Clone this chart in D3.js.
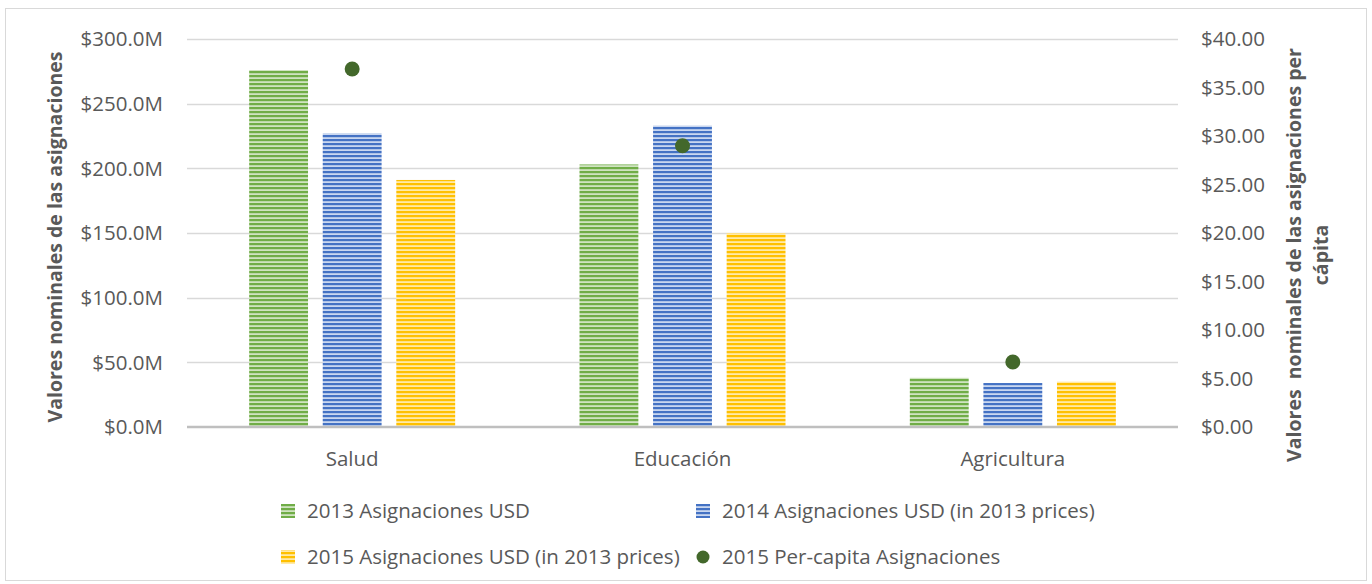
<!DOCTYPE html>
<html>
<head>
<meta charset="utf-8">
<script src="https://cdn.jsdelivr.net/npm/d3@7"></script>
<style>
  body { margin: 0; background: #fff; }
  text { font-family: "Open Sans", Lato, sans-serif; fill: #595959; }
</style>
</head>
<body>
<div id="chart"></div>
<script>
// data
const categories = ["Salud", "Educación", "Agricultura"];
const seriesNames = [
  "2013 Asignaciones USD",
  "2014 Asignaciones USD (in 2013 prices)",
  "2015 Asignaciones USD (in 2013 prices)"
];
const alloc2013 = [276, 203, 38];   // millions USD
const alloc2014 = [227, 233, 34];
const alloc2015 = [191, 150, 35];
const perCapita2015 = [36.9, 29.0, 6.7];
const dotName = "2015 Per-capita Asignaciones";
const leftTicks = [0, 50, 100, 150, 200, 250, 300];
const rightTicks = [0, 5, 10, 15, 20, 25, 30, 35, 40];

const colors = ["#70AD47", "#4472C4", "#FFC000"];
const lights = ["#cfe3c0", "#c9d7f0", "#ffeaa8"];
const dotColor = "#43682B";

const width = 1372, height = 584;
const margin = { top: 39, right: 194, bottom: 157, left: 187 };
const innerW = width - margin.left - margin.right;
const innerH = height - margin.top - margin.bottom;
const fs = "20.5px";
const titleFs = "19.5px";

const svg = d3.select("#chart").append("svg")
    .attr("width", width)
    .attr("height", height);

// striped fills
const defs = svg.append("defs");
colors.forEach((c, i) => {
  const p = defs.append("pattern")
      .attr("id", "stripe" + i)
      .attr("patternUnits", "userSpaceOnUse")
      .attr("width", 8)
      .attr("height", 4);
  p.append("rect").attr("width", 8).attr("height", 4).attr("fill", lights[i]);
  p.append("rect").attr("width", 8).attr("height", 2.2).attr("fill", c);
});

// outer border
svg.append("rect")
    .attr("x", 5.5).attr("y", 8.5)
    .attr("width", 1361).attr("height", 572)
    .attr("fill", "none")
    .attr("stroke", "#d9d9d9");

const g = svg.append("g")
    .attr("transform", `translate(${margin.left},${margin.top})`);

const x0 = d3.scaleBand()
    .domain(categories)
    .range([0, innerW]);

const x1 = d3.scaleBand()
    .domain(d3.range(3))
    .range([x0.bandwidth() / 2 - 103, x0.bandwidth() / 2 + 103])
    .paddingInner(0.2);

const yL = d3.scaleLinear().domain([0, 300]).range([innerH, 0]);
const yR = d3.scaleLinear().domain([0, 40]).range([innerH, 0]);

// gridlines
g.append("g")
  .selectAll("line")
  .data(leftTicks.slice(1))
  .join("line")
    .attr("x1", 0).attr("x2", innerW)
    .attr("y1", d => Math.round(yL(d)) + 0.5)
    .attr("y2", d => Math.round(yL(d)) + 0.5)
    .attr("stroke", "#d9d9d9")
    .attr("stroke-width", 1.5);

// left axis labels
g.append("g")
  .selectAll("text")
  .data(leftTicks)
  .join("text")
    .attr("x", -24)
    .attr("y", d => yL(d))
    .attr("dy", "0.35em")
    .attr("text-anchor", "end")
    .style("font-size", fs)
    .text(d => "$" + d.toFixed(1) + "M");

// right axis labels
g.append("g")
  .selectAll("text")
  .data(rightTicks)
  .join("text")
    .attr("x", innerW + 23)
    .attr("y", d => yR(d))
    .attr("dy", "0.35em")
    .attr("text-anchor", "start")
    .style("font-size", fs)
    .text(d => "$" + d.toFixed(2));

// bars
const series = [alloc2013, alloc2014, alloc2015];
const groups = g.selectAll(".cat")
  .data(categories)
  .join("g")
    .attr("class", "cat")
    .attr("transform", d => `translate(${x0(d)},0)`);

groups.selectAll("rect")
  .data((d, ci) => series.map((s, si) => ({ si, v: s[ci] })))
  .join("rect")
    .attr("x", d => x1(d.si))
    .attr("width", x1.bandwidth())
    .attr("y", d => yL(d.v))
    .attr("height", d => innerH - yL(d.v))
    .attr("fill", d => `url(#stripe${d.si})`);

// baseline
g.append("line")
    .attr("x1", 0).attr("x2", innerW)
    .attr("y1", innerH).attr("y2", innerH)
    .attr("stroke", "#bfbfbf")
    .attr("stroke-width", 2.5);

// per-capita dots
g.selectAll(".dot")
  .data(perCapita2015)
  .join("circle")
    .attr("class", "dot")
    .attr("cx", (d, i) => x0(categories[i]) + x0.bandwidth() / 2)
    .attr("cy", d => yR(d))
    .attr("r", 7.5)
    .attr("fill", dotColor);

// category labels
g.selectAll(".cat-label")
  .data(categories)
  .join("text")
    .attr("class", "cat-label")
    .attr("x", d => x0(d) + x0.bandwidth() / 2)
    .attr("y", innerH + 39)
    .attr("text-anchor", "middle")
    .style("font-size", fs)
    .text(d => d);

// axis titles
svg.append("text")
    .attr("transform", "translate(62,237) rotate(-90)")
    .attr("text-anchor", "middle")
    .style("font-size", titleFs)
    .style("font-weight", "bold")
    .text("Valores nominales de las asignaciones");

const rt = svg.append("text")
    .attr("transform", "translate(1301,255) rotate(-90)")
    .attr("text-anchor", "middle")
    .style("font-size", titleFs)
    .style("font-weight", "bold");
rt.append("tspan").attr("x", 0).attr("dy", 0)
    .style("white-space", "pre")
    .text("Valores  nominales de las asignaciones per");
rt.append("tspan").attr("x", 0).attr("dy", 27).text("cápita");

// legend
const legendItems = [
  { name: seriesNames[0], type: "bar", i: 0, x: 281, y: 504 },
  { name: seriesNames[1], type: "bar", i: 1, x: 696, y: 504 },
  { name: seriesNames[2], type: "bar", i: 2, x: 281, y: 550 },
  { name: dotName, type: "dot", x: 696, y: 550 }
];
const leg = svg.append("g");
legendItems.forEach(it => {
  if (it.type === "bar") {
    leg.append("rect")
        .attr("x", it.x).attr("y", it.y)
        .attr("width", 14).attr("height", 14)
        .attr("fill", `url(#stripe${it.i})`);
  } else {
    leg.append("circle")
        .attr("cx", it.x + 7).attr("cy", it.y + 7)
        .attr("r", 6.5)
        .attr("fill", dotColor);
  }
  leg.append("text")
      .attr("x", it.x + 26)
      .attr("y", it.y + 7)
      .attr("dy", "0.35em")
      .style("font-size", fs)
      .text(it.name);
});
</script>
</body>
</html>
